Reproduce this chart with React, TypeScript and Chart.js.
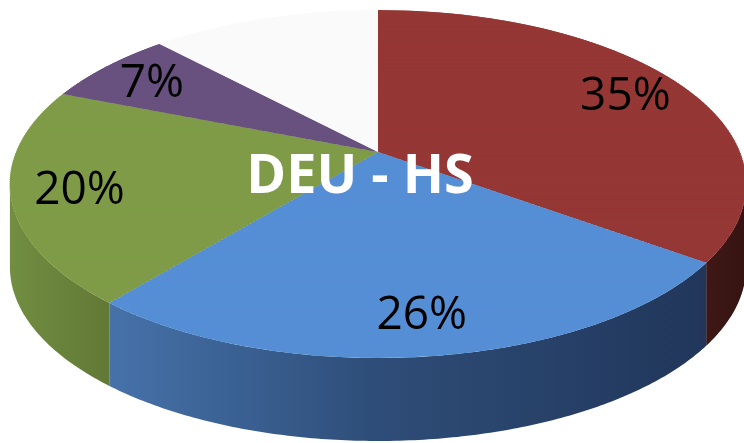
import { useEffect, useRef } from "react";
import { Chart, registerables } from "chart.js";

Chart.register(...registerables);

// ---- data ----
const categories = ["Slice 1", "Slice 2", "Slice 3", "Slice 4", "Slice 5"];
const shares = [35, 26, 20, 7, 12];
const shownLabels = ["35%", "26%", "20%", "7%", ""];
const chartTitle = "DEU - HS";

// ---- styles ----
const topColors = ["#953735", "#558ED5", "#7F9B47", "#68507F", "#FAFAFA"];
const wallStops = [
  ["#3E1816", "#3A1614", "#351311"],
  ["#4672AA", "#2E4D78", "#21365A"],
  ["#728E41", "#6A843C", "#627936"],
  ["#4E3D62", "#47385A", "#403350"],
  ["#D0D0D0", "#C0C0C0", "#B0B0B0"],
];

// perspective view of the disc
const VIEW = { x0: 378, y0: 152, a: 361.8, b: 168.1, k: 0.1839, depth: 83 };
const LABEL_FRACTION = 0.82;
const LABEL_FONT_PX = 46;

function project(u: number, v: number): [number, number] {
  const w = 1 - VIEW.k * v;
  return [VIEW.x0 + (VIEW.a * u) / w, VIEW.y0 + (VIEW.b * v) / w];
}

const pie3d = {
  id: "pie3d",
  beforeDatasetsDraw(chart: any) {
    const ctx: CanvasRenderingContext2D = chart.ctx;
    const arcs = chart.getDatasetMeta(0).data as any[];
    if (!arcs.length) return;
    const ax = arcs[0].x, ay = arcs[0].y, R = arcs[0].outerRadius;
    const phiR = Math.acos(-VIEW.k);
    const phiL = 2 * Math.PI - phiR;

    // side walls (front part only)
    arcs.forEach((arc, i) => {
      const s = arc.startAngle + Math.PI / 2;
      const e = arc.endAngle + Math.PI / 2;
      const a = Math.max(s, phiR);
      const b = Math.min(e, phiL);
      if (b <= a) return;
      const n = Math.max(8, Math.ceil((b - a) * 90));
      const rim: [number, number][] = [];
      for (let j = 0; j <= n; j++) {
        const p = a + ((b - a) * j) / n;
        rim.push(project(Math.sin(p), -Math.cos(p)));
      }
      ctx.save();
      ctx.beginPath();
      rim.forEach(([x, y], j) => (j ? ctx.lineTo(x, y) : ctx.moveTo(x, y)));
      for (let j = n; j >= 0; j--) ctx.lineTo(rim[j][0], rim[j][1] + VIEW.depth);
      ctx.closePath();
      const xs = rim.map((p) => p[0]);
      const minX = Math.min(...xs), maxX = Math.max(...xs);
      const g = ctx.createLinearGradient(minX, 0, Math.max(maxX, minX + 1), 0);
      const st = wallStops[i % wallStops.length];
      g.addColorStop(0, st[0]);
      g.addColorStop(0.45, st[1]);
      g.addColorStop(1, st[2]);
      ctx.fillStyle = g;
      ctx.fill();
      ctx.restore();
    });

    // top face: library arcs drawn through perspective strips
    const N = 200;
    for (let s = 0; s < N; s++) {
      const v0 = -1 + (2 * s) / N;
      const v1 = -1 + (2 * (s + 1)) / N;
      const vm = (v0 + v1) / 2;
      const w = 1 - VIEW.k * vm;
      const sx = VIEW.a / (w * R);
      const sy = VIEW.b / (w * w * R);
      const ym = VIEW.y0 + (VIEW.b * vm) / w;
      const pad = 0.6 / (sy * R);
      ctx.save();
      ctx.transform(sx, 0, 0, sy, VIEW.x0 - sx * ax, ym - sy * (ay + vm * R));
      ctx.beginPath();
      ctx.rect(ax - R - 3, ay + (v0 - pad) * R, 2 * R + 6, (v1 - v0 + 2 * pad) * R);
      ctx.clip();
      arcs.forEach((arc) => arc.draw(ctx));
      ctx.restore();
    }
    return false;
  },
  afterDraw(chart: any) {
    const ctx: CanvasRenderingContext2D = chart.ctx;
    const arcs = chart.getDatasetMeta(0).data as any[];
    ctx.save();
    ctx.textAlign = "center";
    ctx.textBaseline = "alphabetic";
    ctx.fillStyle = "#000";
    ctx.font = `${LABEL_FONT_PX}px 'Open Sans', 'Liberation Sans', sans-serif`;
    const half = LABEL_FONT_PX * 0.714 / 2;
    arcs.forEach((arc, i) => {
      const txt = shownLabels[i];
      if (!txt) return;
      const mid = (arc.startAngle + arc.endAngle) / 2 + Math.PI / 2;
      const [x, y] = project(LABEL_FRACTION * Math.sin(mid), -LABEL_FRACTION * Math.cos(mid));
      ctx.fillText(txt, x, y + half);
    });
    ctx.fillStyle = "#FFFFFF";
    ctx.font = "bold 54px 'Open Sans', 'Liberation Sans', sans-serif";
    ctx.textBaseline = "middle";
    ctx.fillText(chartTitle, 360, 178);
    ctx.restore();
  },
};

export default function App() {
  const ref = useRef<HTMLCanvasElement>(null);
  useEffect(() => {
    const chart = new Chart(ref.current as HTMLCanvasElement, {
      type: "pie",
      data: {
        labels: categories,
        datasets: [{ data: shares, backgroundColor: topColors, borderWidth: 0 }],
      },
      options: {
        responsive: false,
        animation: false,
        events: [],
        layout: { padding: 0 },
        plugins: {
          legend: { display: false },
          tooltip: { enabled: false },
          title: { display: false },
        },
      },
      plugins: [pie3d as any],
    });
    return () => chart.destroy();
  }, []);
  return (
    <div style={{ position: "fixed", left: 0, top: 0, width: 744, height: 443, background: "#fff" }}>
      <canvas ref={ref} width={744} height={443} style={{ display: "block" }} />
    </div>
  );
}
